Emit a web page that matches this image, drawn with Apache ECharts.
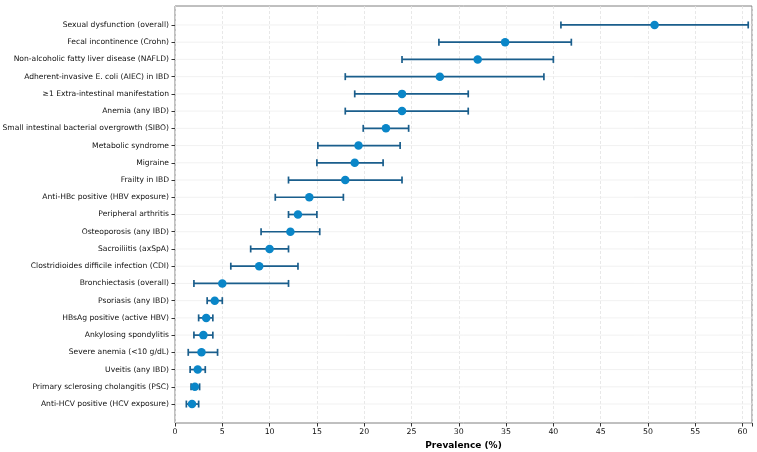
<!DOCTYPE html>
<html>
<head>
<meta charset="utf-8">
<script src="https://cdn.jsdelivr.net/npm/echarts@6/dist/echarts.min.js"></script>
<style>
  html, body { margin: 0; padding: 0; background: #fff; }
  #chart { width: 757px; height: 452px; }
</style>
</head>
<body>
<div id="chart"></div>
<script>
// categories, top to bottom
var conditions = [
  'Sexual dysfunction (overall)',
  'Fecal incontinence (Crohn)',
  'Non-alcoholic fatty liver disease (NAFLD)',
  'Adherent-invasive E. coli (AIEC) in IBD',
  '\u22651 Extra-intestinal manifestation',
  'Anemia (any IBD)',
  'Small intestinal bacterial overgrowth (SIBO)',
  'Metabolic syndrome',
  'Migraine',
  'Frailty in IBD',
  'Anti-HBc positive (HBV exposure)',
  'Peripheral arthritis',
  'Osteoporosis (any IBD)',
  'Sacroiliitis (axSpA)',
  'Clostridioides difficile infection (CDI)',
  'Bronchiectasis (overall)',
  'Psoriasis (any IBD)',
  'HBsAg positive (active HBV)',
  'Ankylosing spondylitis',
  'Severe anemia (<10 g/dL)',
  'Uveitis (any IBD)',
  'Primary sclerosing cholangitis (PSC)',
  'Anti-HCV positive (HCV exposure)'
];

// prevalence (%) and range
var prevalence = [50.7, 34.9, 32.0, 28.0, 24.0, 24.0, 22.3, 19.4, 19.0, 18.0, 14.2, 13.0, 12.2, 10.0, 8.9, 5.0, 4.2, 3.3, 3.0, 2.8, 2.4, 2.1, 1.8];
var lower = [40.8, 27.9, 24.0, 18.0, 19.0, 18.0, 19.9, 15.1, 15.0, 12.0, 10.6, 12.0, 9.1, 8.0, 5.9, 2.0, 3.4, 2.5, 2.0, 1.4, 1.6, 1.7, 1.2];
var upper = [60.6, 41.9, 40.0, 39.0, 31.0, 31.0, 24.7, 23.8, 22.0, 24.0, 17.8, 15.0, 15.3, 12.0, 13.0, 12.0, 5.0, 4.0, 4.0, 4.5, 3.2, 2.6, 2.5];

var xTicks = [0, 5, 10, 15, 20, 25, 30, 35, 40, 45, 50, 55, 60];

var rows = conditions.map(function (c, i) { return i; });

var points = prevalence.map(function (v, i) { return [v, i]; });
var ranges = lower.map(function (lo, i) { return [lo, upper[i], i]; });

var chart = echarts.init(document.getElementById('chart'));

chart.setOption({
  animation: false,
  grid: {
    left: 175, right: 5, top: 6, bottom: 29,
    outerBoundsMode: 'none', containLabel: false,
    show: true, borderColor: '#808080', borderWidth: 1
  },
  xAxis: {
    type: 'value',
    min: 0,
    max: 61,
    interval: 5,
    name: 'Prevalence (%)',
    nameLocation: 'middle',
    nameGap: 16,
    nameTextStyle: { fontFamily: 'DejaVu Sans', fontSize: 9, fontWeight: 'bold', color: '#000' },
    axisLine: { show: false, onZero: false },
    axisTick: { show: true, length: 3.5, lineStyle: { color: '#333' } },
    axisLabel: {
      fontFamily: 'DejaVu Sans', fontSize: 7.8, color: '#111', margin: 5,
      customValues: xTicks
    },
    splitLine: { show: true, lineStyle: { color: '#e2e2e2', type: [3, 2], width: 0.8 } }
  },
  yAxis: {
    type: 'value',
    inverse: true,
    min: -1.1,
    max: 23.1,
    axisLine: { show: false, onZero: false },
    axisTick: { show: true, length: 3.5, customValues: rows, lineStyle: { color: '#333' } },
    axisLabel: {
      fontFamily: 'DejaVu Sans', fontSize: 7.6, color: '#111', margin: 6,
      customValues: rows,
      formatter: function (v) { return conditions[Math.round(v)] || ''; }
    },
    splitLine: { show: false }
  },
  series: [
    {
      // faint horizontal row guides
      type: 'custom',
      silent: true,
      z: 1,
      data: rows.map(function (i) { return [i]; }),
      renderItem: function (params, api) {
        var y = api.value(0);
        var a = api.coord([0, y]);
        var b = api.coord([61, y]);
        return {
          type: 'line',
          shape: { x1: a[0], y1: a[1], x2: b[0], y2: b[1] },
          style: { stroke: '#eeeeee', lineWidth: 0.8 }
        };
      }
    },
    {
      type: 'custom',
      z: 2,
      data: ranges,
      renderItem: function (params, api) {
        var lo = api.coord([api.value(0), api.value(2)]);
        var hi = api.coord([api.value(1), api.value(2)]);
        var h = 3.5;
        var st = { stroke: '#1a5e8c', lineWidth: 1.7 };
        return {
          type: 'group',
          children: [
            { type: 'line', shape: { x1: lo[0], y1: lo[1], x2: hi[0], y2: hi[1] }, style: st },
            { type: 'line', shape: { x1: lo[0], y1: lo[1] - h, x2: lo[0], y2: lo[1] + h }, style: st },
            { type: 'line', shape: { x1: hi[0], y1: hi[1] - h, x2: hi[0], y2: hi[1] + h }, style: st }
          ]
        };
      }
    },
    {
      type: 'scatter',
      z: 3,
      symbolSize: 8.5,
      itemStyle: { color: '#0a86c8', opacity: 1 },
      data: points
    }
  ]
});
</script>
</body>
</html>
